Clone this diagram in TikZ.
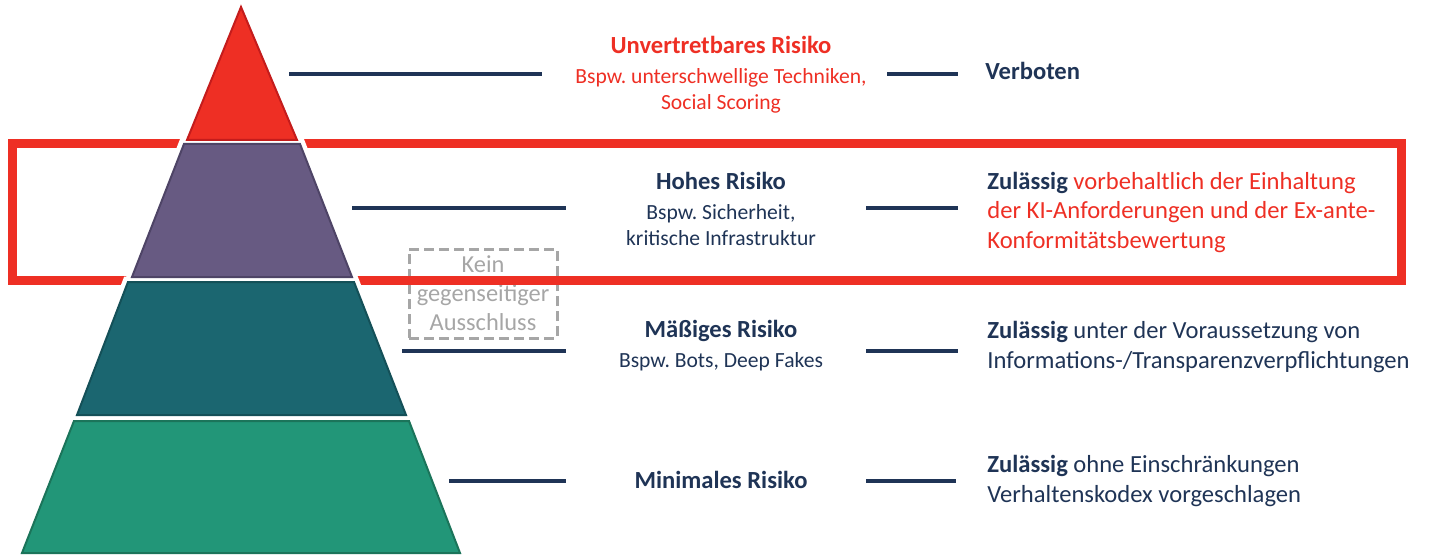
\documentclass[tikz,border=0pt]{standalone}
\usepackage{fontspec}
\setmainfont{Carlito}
\usetikzlibrary{positioning}
\definecolor{navy}{RGB}{31,52,86}
\definecolor{kired}{RGB}{238,47,36}
\definecolor{kireddark}{RGB}{196,28,28}
\definecolor{kipurple}{RGB}{103,90,130}
\definecolor{kipurpledark}{RGB}{78,68,102}
\definecolor{kiteal}{RGB}{27,102,112}
\definecolor{kitealdark}{RGB}{20,80,88}
\definecolor{kigreen}{RGB}{34,150,120}
\definecolor{kigreendark}{RGB}{27,116,90}
\definecolor{kigray}{RGB}{166,166,166}
\frenchspacing
\tikzset{
  halo/.style={
    draw=white,
    line width=5.5pt,
    line join=miter
    },
  layer/.style={
    line width=1pt,
    line join=miter
    },
  frame/.style={
    draw=kired,
    line width=4.5pt
    },
  link/.style={
    draw=navy,
    line width=2pt
    },
  title/.style={
    anchor=base,
    inner sep=0pt,
    text=navy,
    font=\bfseries\fontsize{12.3}{14.5}\selectfont
    },
  example/.style={
    anchor=base,
    inner sep=0pt,
    align=center,
    text=navy,
    font=\fontsize{10.8}{13}\selectfont
    },
  rule/.style={
    anchor=base west,
    inner sep=0pt,
    align=left,
    text=navy,
    font=\fontsize{12.3}{14.75}\selectfont
    },
  excl/.style={
    draw=kigray,
    dash pattern=on 5pt off 2.5pt,
    line width=1.5pt,
    minimum width=74pt,
    minimum height=44.5pt,
    inner sep=0pt,
    align=center,
    text=kigray,
    font=\fontsize{12.2}{14.5}\selectfont
    },
}

\begin{document}
\begin{tikzpicture}[x=0.5pt,y=-0.5pt]
\useasboundingbox (0,0) rectangle (1429,556);

\node (nomx) [excl] at (483,293.5) {Kein\\gegenseitiger\\Ausschluss};
\draw[frame] (12,143.5) rectangle (1401,280);

% pyramid
\draw[halo] (241,7) -- (297,140) -- (187,140) -- cycle
  (184,144) -- (300,144) -- (352,277) -- (132,277) -- cycle
  (128,282) -- (354,282) -- (406,415) -- (77,415) -- cycle
  (74,421) -- (409,421) -- (460,553) -- (22,553) -- cycle;
\filldraw[layer,fill=kired,draw=kireddark] (241,7) -- (297,140) -- (187,140) -- cycle;
\filldraw[layer,fill=kipurple,draw=kipurpledark] (184,144) -- (300,144) -- (352,277) -- (132,277) -- cycle;
\filldraw[layer,fill=kiteal,draw=kitealdark] (128,282) -- (354,282) -- (406,415) -- (77,415) -- cycle;
\filldraw[layer,fill=kigreen,draw=kigreendark] (74,421) -- (409,421) -- (460,553) -- (22,553) -- cycle;

% risk classes (base = last line)
\node (unv) [title,text=kired] at (721,54) {Unvertretbares Risiko};
\node (unvex) [example,text=kired] at (721,110) {Bspw. unterschwellige Techniken,\\Social Scoring};
\node (hoh) [title] at (721,189) {Hohes Risiko};
\node (hohex) [example] at (721,245) {Bspw. Sicherheit,\\kritische Infrastruktur};
\node (mas) [title] at (721,337) {Mäßiges Risiko};
\node (masex) [example] at (721,367) {Bspw. Bots, Deep Fakes};
\node (min) [title] at (721,488) {Minimales Risiko};

% consequences
\node (verb) [rule,font=\bfseries\fontsize{12.3}{14.75}\selectfont] at (985,80) {Verboten};
\node (zhoh) [rule,text=kired] at (987,248) {{\color{navy}\bfseries Zulässig} vorbehaltlich der Einhaltung\\der KI-Anforderungen und der Ex-ante-\\Konformitätsbewertung};
\node (zmas) [rule] at (987,368) {\textbf{Zulässig} unter der Voraussetzung von\\Informations-/Transparenzverpflichtungen};
\node (zmin) [rule] at (987,502) {\textbf{Zulässig} ohne Einschränkungen\\Verhaltenskodex vorgeschlagen};

% connectors
\coordinate (unv-a) at (289,74);
\coordinate (unv-b) at (542,74);
\coordinate (unv-c) at (887,74);
\coordinate (unv-d) at (958,74);
\coordinate (hoh-a) at (352,208);
\coordinate (hoh-b) at (566,208);
\coordinate (hoh-c) at (866,208);
\coordinate (hoh-d) at (958,208);
\coordinate (mas-a) at (402,351);
\coordinate (mas-b) at (566,351);
\coordinate (mas-c) at (866,351);
\coordinate (mas-d) at (958,351);
\coordinate (min-a) at (449,481);
\coordinate (min-b) at (566,481);
\coordinate (min-c) at (866,481);
\coordinate (min-d) at (956,481);
\draw[link] (unv-a) -- (unv-b);
\draw[link] (unv-c) -- (unv-d);
\draw[link] (hoh-a) -- (hoh-b);
\draw[link] (hoh-c) -- (hoh-d);
\draw[link] (mas-a) -- (mas-b);
\draw[link] (mas-c) -- (mas-d);
\draw[link] (min-a) -- (min-b);
\draw[link] (min-c) -- (min-d);
\end{tikzpicture}
\end{document}
